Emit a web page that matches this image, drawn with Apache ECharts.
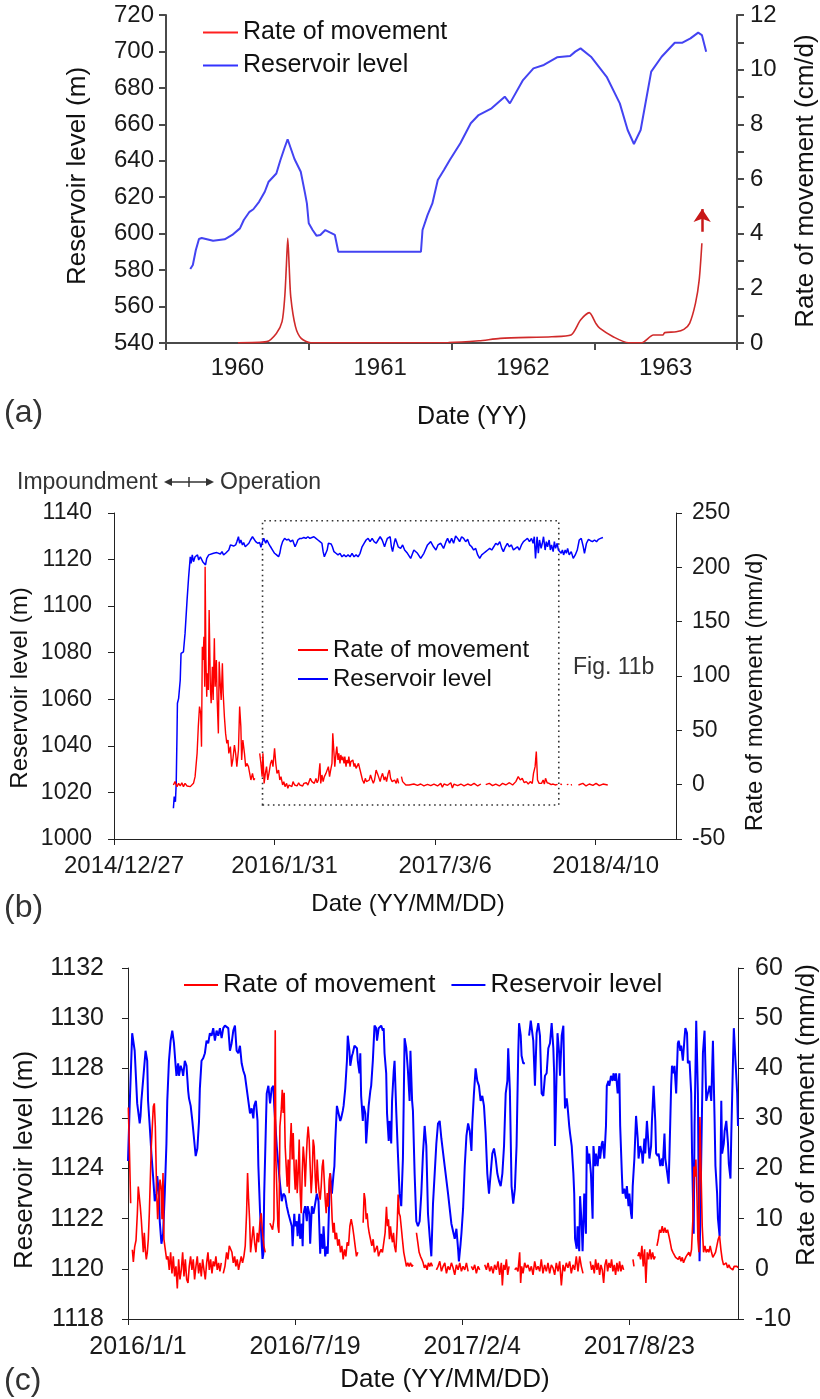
<!DOCTYPE html>
<html>
<head>
<meta charset="utf-8">
<script src="https://cdn.jsdelivr.net/npm/echarts@6/dist/echarts.min.js"></script>
<style>
html,body{margin:0;padding:0;background:#fff;}
#chart{width:820px;height:1399px;}
</style>
</head>
<body>
<div id="chart"></div>
<script>
// ---------- Panel (a): Vajont 1960-1963 (x = decimal year) ----------
const aYearLabels = ['1960', '1961', '1962', '1963'];
const aLevel = [
  [1960.170,580.6],[1960.188,582.8],[1960.209,591.0],[1960.231,597.1],[1960.250,597.6],[1960.330,596.1],
  [1960.411,596.9],[1960.464,599.3],[1960.518,602.9],[1960.545,607.5],[1960.585,612.0],[1960.612,613.4],
  [1960.652,617.5],[1960.692,623.0],[1960.719,628.5],[1960.773,633.0],[1960.800,640.0],[1960.830,647.0],
  [1960.852,651.8],[1960.900,641.0],[1960.944,634.0],[1960.974,622.1],[1960.987,616.6],[1961.000,605.7],
  [1961.027,602.0],[1961.054,598.9],[1961.081,599.3],[1961.116,602.0],[1961.148,600.7],[1961.183,599.3],
  [1961.207,590.1],[1961.786,590.1],[1961.797,602.0],[1961.832,610.2],[1961.845,610.2],[1961.866,616.6],
  [1961.904,629.4],[1961.947,634.9],[1961.988,640.4],[1962.062,649.6],[1962.135,660.6],[1962.190,665.1],
  [1962.281,668.8],[1962.373,675.2],[1962.409,671.5],[1962.501,684.3],[1962.574,690.7],[1962.647,692.6],
  [1962.739,696.8],[1962.831,697.5],[1962.867,699.9],[1962.904,701.7],[1962.977,697.1],[1963.087,686.1],
  [1963.179,671.5],[1963.234,656.9],[1963.278,649.2],[1963.325,656.9],[1963.399,688.9],[1963.472,697.1],
  [1963.564,704.8],[1963.618,704.8],[1963.674,707.2],[1963.728,710.3],[1963.754,709.0],[1963.784,699.9]
];
const aRate = [
  [1960.504,0.01],[1960.705,0.05],[1960.773,0.35],[1960.813,0.78],[1960.832,1.69],[1960.843,2.8],
  [1960.853,3.83],[1960.863,2.8],[1960.874,1.69],[1960.907,0.6],[1960.947,0.17],[1961.014,0.01],
  [1961.979,0.02],[1962.193,0.08],[1962.341,0.17],[1962.703,0.23],[1962.837,0.29],[1962.904,0.84],
  [1962.965,1.11],[1963.011,0.72],[1963.038,0.54],[1963.132,0.23],[1963.239,0.01],[1963.333,0.01],
  [1963.414,0.29],[1963.480,0.29],[1963.494,0.38],[1963.574,0.41],[1963.628,0.5],[1963.668,0.72],
  [1963.709,1.45],[1963.735,2.3],[1963.754,3.65]
];
const aArrow = [[1963.756, 4.07], [1963.756, 4.9]];

// ---------- Panel (b): x = days since 2014/12/27 ----------
const bTickLabels = ['2014/12/27', '2016/1/31', '2017/3/6', '2018/4/10'];
const bBox = [[370, 1014.6], [1108, 1136.7]];
const bLevel = [
  [148,1013.2],[150,1018.2],[153,1016.0],[155,1023.9],[157,1045.4],[158,1058.3],[161,1060.4],[165,1068.3],
  [167,1079.7],[173,1080.4],[177,1088.3],[182,1102.6],[186,1112.7],[190,1121.2],[192,1118.4],[195,1122.0],
  [198,1119.1],[202,1121.2],[205,1120.5],[208,1122.0],[211,1119.8],[215,1121.2],[218,1120.5],[221,1119.1],
  [225,1119.8],[228,1117.7],[231,1120.5],[236,1122.0],[240,1122.7],[248,1122.7],[256,1123.0],[265,1122.4],
  [269,1123.4],[273,1122.0],[278,1122.7],[281,1123.0],[286,1124.1],[290,1126.3],[294,1127.0],[298,1125.8],
  [303,1126.3],[306,1127.7],[310,1129.8],[313,1127.0],[316,1128.4],[320,1126.3],[323,1127.3],[327,1125.5],
  [331,1124.8],[336,1127.0],[340,1128.4],[345,1129.8],[348,1129.1],[353,1127.7],[358,1127.0],[363,1127.3],
  [366,1125.3],[370,1127.7],[373,1129.1],[378,1127.0],[381,1128.4],[385,1127.0],[390,1125.5],[395,1124.1],
  [400,1122.7],[405,1122.0],[410,1121.2],[413,1122.7],[416,1125.5],[420,1127.7],[425,1129.1],[430,1128.4],
  [435,1128.7],[440,1127.7],[445,1128.4],[448,1127.7],[451,1125.5],[455,1127.0],[458,1128.4],[463,1129.1],
  [468,1129.1],[473,1129.5],[478,1129.1],[483,1129.8],[488,1129.1],[493,1129.5],[498,1129.8],[503,1129.1],
  [508,1128.4],[513,1127.7],[518,1127.0],[521,1123.4],[524,1121.2],[528,1120.5],[531,1124.1],[534,1127.0],
  [538,1126.3],[541,1126.7],[544,1125.5],[548,1123.4],[553,1122.7],[558,1122.0],[563,1122.7],[568,1121.2],
  [573,1122.0],[578,1121.2],[583,1122.0],[588,1121.2],[593,1122.7],[598,1121.2],[603,1122.0],[608,1121.2],
  [613,1122.7],[618,1125.5],[623,1127.0],[628,1128.4],[633,1129.1],[638,1127.7],[643,1129.1],[648,1127.7],
  [653,1127.0],[658,1128.4],[663,1129.8],[668,1128.4],[671,1127.0],[674,1125.5],[678,1127.7],[681,1129.1],
  [684,1128.4],[688,1129.8],[691,1125.5],[694,1123.4],[698,1127.0],[701,1129.1],[704,1128.4],[708,1125.5],
  [711,1126.3],[714,1124.8],[719,1126.3],[724,1124.1],[731,1122.7],[739,1120.5],[747,1124.1],[756,1122.7],
  [764,1120.5],[772,1122.7],[781,1126.3],[789,1127.7],[796,1125.5],[802,1124.1],[807,1126.3],[814,1127.0],
  [821,1124.8],[827,1127.7],[831,1129.1],[836,1127.0],[841,1129.1],[846,1127.0],[851,1130.1],[856,1129.1],
  [861,1127.7],[866,1129.8],[871,1129.1],[876,1127.7],[881,1128.7],[886,1126.3],[891,1125.5],[896,1124.1],
  [901,1124.8],[906,1122.0],[911,1120.5],[916,1122.0],[921,1122.7],[926,1123.4],[931,1124.1],[936,1124.8],
  [941,1124.1],[946,1125.5],[951,1127.0],[956,1126.3],[961,1127.7],[966,1124.8],[970,1123.4],[975,1125.5],
  [980,1127.0],[985,1125.5],[990,1126.3],[995,1124.1],[1000,1124.8],[1005,1125.5],[1010,1124.1],[1015,1126.3],
  [1020,1127.7],[1025,1128.4],[1030,1129.1],[1035,1127.7],[1040,1129.1],[1044,1127.0],[1047,1129.8],[1050,1120.5],
  [1054,1129.8],[1057,1122.7],[1060,1128.4],[1064,1124.8],[1067,1127.0],[1070,1129.8],[1074,1124.1],[1077,1127.7],
  [1080,1125.5],[1084,1128.4],[1087,1124.1],[1090,1126.3],[1094,1123.4],[1097,1127.7],[1100,1124.8],[1104,1127.0],
  [1107,1124.1],[1110,1124.8],[1114,1122.7],[1117,1124.1],[1120,1122.0],[1124,1124.1],[1127,1122.7],[1130,1124.8],
  [1134,1122.0],[1139,1123.4],[1144,1120.5],[1149,1122.0],[1154,1124.1],[1159,1128.4],[1164,1129.1],[1169,1125.5],
  [1172,1122.7],[1177,1127.0],[1182,1128.7],[1187,1128.1],[1192,1127.7],[1197,1128.4],[1202,1127.7],[1207,1128.7],
  [1212,1129.1],[1218,1129.5]
];
const bRate = [
  [148,-0.3],[152,2.8],[157,-1.8],[161,1.2],[165,-1.2],[169,1.8],[173,-1.8],[177,1.2],[182,-1.2],[186,0.6],
  [190,-1.8],[194,-0.3],[198,1.2],[202,7.4],[207,28.8],[210,53.4],[213,71.8],[216,65.6],[218,35.0],[220,127.0],
  [222,114.7],[224,136.2],[226,90.2],[227,200.6],[229,114.7],[231,81.0],[232,102.5],[235,87.1],[237,160.7],
  [240,90.2],[242,74.9],[245,108.6],[247,77.9],[250,134.7],[252,90.2],[255,114.7],[257,77.9],[260,47.2],
  [262,113.2],[265,90.2],[267,77.9],[270,111.7],[272,84.0],[275,62.6],[278,47.2],[281,38.0],[284,41.1],
  [286,28.8],[290,35.0],[293,16.6],[296,22.7],[300,36.5],[303,28.8],[306,16.6],[310,31.9],[313,71.8],
  [316,53.4],[318,22.7],[321,41.1],[325,28.8],[328,16.6],[331,19.6],[335,16.6],[338,10.4],[341,4.3],
  [345,10.4],[348,4.3],[351,5.8],[355,null],[363,28.8],[366,19.6],[369,7.4],[371,28.8],[374,1.2],[377,10.4],
  [380,16.6],[383,4.3],[386,10.4],[390,19.6],[393,22.7],[396,16.6],[400,33.4],[403,19.6],[406,10.4],
  [410,13.5],[413,4.3],[416,7.4],[420,-0.3],[423,2.8],[426,-1.8],[430,1.2],[433,-3.4],[436,-0.3],[440,1.2],
  [443,-1.8],[446,2.8],[450,-0.3],[453,1.2],[456,-1.2],[460,1.8],[463,-0.3],[466,1.2],[470,-1.2],[473,1.2],
  [476,-0.3],[479,1.8],[483,-0.3],[486,1.2],[489,5.8],[493,2.8],[496,4.3],[499,1.2],[503,5.8],[506,1.8],
  [509,4.3],[513,19.6],[515,1.2],[518,8.9],[521,2.8],[524,7.4],[528,10.4],[531,8.9],[534,16.6],[537,7.4],
  [539,12.0],[543,19.6],[545,47.2],[548,28.8],[550,16.6],[553,28.8],[555,35.0],[558,22.7],[560,28.8],
  [563,19.6],[565,27.3],[568,22.7],[570,25.8],[573,19.6],[575,25.8],[578,16.6],[580,22.7],[583,19.6],
  [585,25.8],[588,16.6],[590,21.2],[593,19.6],[595,22.7],[598,16.6],[600,19.6],[603,15.0],[606,16.6],
  [609,19.6],[613,13.5],[616,8.9],[619,4.3],[623,1.2],[626,5.8],[629,2.8],[633,1.2],[636,4.3],[639,8.9],
  [643,4.3],[646,1.2],[649,4.3],[653,13.5],[656,10.4],[659,7.4],[663,2.8],[666,7.4],[669,10.4],[673,4.3],
  [676,7.4],[679,2.8],[683,10.4],[686,13.5],[689,5.8],[693,2.8],[696,1.2],[699,4.3],[703,1.2],[706,5.8],
  [709,1.2],[712,null],[716,7.4],[719,2.8],[723,1.2],[727,-0.3],[731,0.6],[735,-0.3],[739,0.3],[747,0.6],
  [756,-0.6],[764,0.6],[772,-1.2],[781,0.3],[789,-0.9],[797,0.6],[806,-1.2],[814,1.2],[818,-2.4],[822,0.6],
  [831,-0.6],[839,1.8],[843,-3.1],[847,0.6],[856,-0.9],[864,0.6],[872,-1.2],[881,0.6],[889,-0.6],[897,1.2],
  [906,-1.2],[914,0.6],[920,null],[926,0.0],[935,1.2],[943,-0.9],[951,0.6],[960,-1.2],[968,1.2],[976,-0.3],
  [985,1.8],[993,-0.3],[1001,2.8],[1007,7.4],[1012,4.3],[1017,5.8],[1022,1.8],[1027,2.8],[1032,0.6],
  [1037,2.8],[1042,1.2],[1045,10.4],[1049,16.6],[1052,30.4],[1055,4.3],[1059,1.2],[1062,2.8],[1065,1.2],
  [1069,4.3],[1072,0.6],[1075,5.8],[1079,1.8],[1084,1.2],[1089,0.0],[1094,0.6],[1099,-0.3],[1105,0.3],
  [1108,null],[1112,0.6],[1116,0.0],[1119,null],[1128,0.0],[1132,0.3],[1135,null],[1138,-0.3],[1141,0.0],
  [1144,null],[1157,-0.3],[1168,1.2],[1176,-1.2],[1184,0.6],[1193,-0.6],[1201,1.2],[1209,-0.9],[1218,0.6],
  [1230,-0.3]
];

// ---------- Panel (c): x = days since 2016/1/1 ----------
const cTickLabels = ['2016/1/1', '2016/7/19', '2017/2/4', '2017/8/23'];
const cLevel = [
  [0,1124.3],[2,1126.5],[5,1129.4],[8,1128.7],[11,1126.6],[14,1125.8],[15,1126.1],[16,1126.7],[18,1127.5],
  [21,1128.7],[23,1128.3],[24,1126.7],[26,1125.7],[28,1124.6],[30,1123.7],[32,1122.7],[34,1123.0],[35,1123.7],
  [37,1123.0],[38,1121.9],[40,1121.0],[42,1121.4],[44,1123.0],[46,1125.0],[47,1126.7],[49,1128.3],[51,1129.1],
  [53,1129.5],[55,1129.0],[57,1128.1],[58,1127.7],[60,1128.2],[61,1127.7],[63,1128.1],[65,1127.9],[66,1127.7],
  [68,1128.3],[70,1128.1],[72,1127.1],[73,1126.8],[75,1126.5],[77,1125.9],[79,1125.2],[81,1124.5],[83,1124.8],
  [85,1125.9],[86,1127.2],[88,1128.3],[90,1128.4],[92,1128.6],[94,1129.1],[96,1129.0],[98,1129.4],[100,1129.3],
  [102,1129.6],[104,1129.1],[106,1129.5],[108,1129.3],[110,1129.6],[112,1129.2],[114,1129.6],[116,1129.7],
  [118,1129.7],[120,1129.6],[122,1128.7],[124,1129.0],[126,1129.5],[128,1129.7],[130,1128.7],[132,1128.6],
  [134,1128.9],[136,1128.2],[138,1127.9],[140,1127.7],[142,1127.2],[144,1126.7],[146,1126.2],[148,1126.4],
  [150,1126.0],[151,1126.5],[153,1126.7],[155,1125.9],[156,1124.1],[158,1122.3],[160,1121.0],[161,1120.4],
  [162,1120.6],[163,1123.0],[165,1125.7],[166,1127.0],[168,1127.3],[170,1126.6],[172,1127.2],[174,1127.3],
  [175,1126.5],[178,1124.9],[181,1123.7],[184,1122.7],[186,1123.0],[188,1122.9],[190,1122.5],[192,1122.2],
  [194,1122.2],[196,1121.7],[197,1120.9],[199,1122.2],[200,1121.7],[202,1121.9],[203,1121.3],[205,1122.2],
  [206,1121.2],[208,1121.8],[209,1120.9],[210,1122.2],[212,1122.5],[214,1121.9],[215,1122.5],[217,1122.2],
  [218,1121.0],[220,1122.5],[222,1122.2],[224,1122.6],[226,1123.0],[228,1122.7],[230,1120.6],[231,1121.4],
  [233,1120.8],[234,1121.7],[236,1120.5],[238,1120.9],[239,1120.6],[241,1123.0],[242,1123.8],[244,1123.0],
  [246,1123.8],[247,1124.1],[248,1125.1],[250,1126.5],[252,1126.2],[254,1125.9],[255,1126.0],[257,1126.3],
  [258,1126.5],[260,1127.2],[262,1128.3],[263,1129.3],[265,1128.7],[266,1128.1],[268,1128.5],[269,1128.6],
  [271,1128.9],[273,1128.9],[274,1128.8],[275,1128.3],[277,1127.8],[278,1128.6],[279,1126.9],[281,1125.9],
  [282,1126.5],[284,1126.2],[285,1125.0],[287,1126.0],[288,1126.5],[290,1127.1],[291,1127.3],[293,1128.3],
  [295,1129.7],[297,1129.6],[298,1129.1],[300,1129.6],[301,1129.6],[303,1129.7],[305,1129.5],[306,1129.6],
  [307,1128.6],[309,1127.8],[310,1126.2],[312,1125.1],[313,1125.9],[315,1125.0],[316,1126.7],[318,1127.9],
  [319,1128.3],[321,1126.3],[323,1124.6],[325,1123.0],[327,1122.5],[329,1124.4],[331,1129.2],[333,1128.8],
  [335,1127.9],[337,1126.7],[338,1128.7],[340,1126.7],[341,1126.3],[343,1123.8],[345,1121.9],[347,1121.7],
  [349,1121.9],[351,1123.0],[353,1124.6],[355,1125.7],[357,1124.9],[359,1122.2],[361,1121.3],[363,1120.5],
  [365,1122.6],[367,1123.8],[369,1125.0],[371,1125.8],[373,1125.9],[375,1125.2],[379,1124.1],[383,1123.0],
  [387,1121.8],[391,1121.2],[393,1121.6],[395,1120.8],[396,1120.3],[398,1121.0],[399,1121.4],[401,1122.4],
  [403,1124.1],[405,1125.3],[407,1125.8],[409,1125.5],[411,1124.7],[412,1125.8],[414,1127.0],[416,1128.0],
  [418,1127.5],[420,1127.3],[422,1126.7],[424,1126.9],[426,1126.5],[428,1125.4],[430,1123.8],[432,1123.0],
  [434,1123.0],[436,1124.6],[438,1124.8],[440,1124.4],[442,1123.8],[444,1123.5],[446,1123.3],[448,1123.8],
  [450,1124.9],[452,1127.0],[454,1127.5],[455,1128.8],[457,1127.1],[459,1123.3],[461,1122.6],[463,1123.2],
  [465,1124.9],[467,1128.6],[468,1129.8],[470,1129.3],[471,1128.5],[473,1128.2],[475,1128.2],[477,null],
  [480,1129.3],[482,1129.9],[485,1129.1],[487,1127.3],[489,1129.4],[491,1129.8],[493,1129.3],[495,1127.0],
  [497,1126.9],[499,1127.7],[501,1127.8],[503,1128.8],[505,1129.0],[507,1129.8],[509,1128.8],[510,1127.8],
  [511,1124.9],[513,1127.9],[514,1129.4],[516,1128.6],[517,1127.7],[519,1129.3],[521,1129.7],[522,1127.7],
  [523,1126.4],[525,1126.8],[526,1126.5],[528,1125.7],[529,1125.4],[531,1124.9],[533,1123.8],[534,1123.0],
  [535,1121.2],[537,1120.8],[538,1121.7],[540,1120.7],[541,1122.9],[543,1121.7],[544,1120.7],[546,1123.0],
  [548,1121.4],[549,1124.9],[551,1124.2],[552,1124.6],[554,1123.8],[556,1122.0],[557,1124.9],[559,1124.1],
  [560,1124.6],[562,1124.1],[564,1124.9],[565,1124.4],[567,1125.0],[568,1125.1],[570,1124.4],[572,1125.7],
  [573,1127.3],[575,1127.5],[576,1127.3],[578,1127.7],[580,1127.5],[581,1127.8],[583,1127.5],[584,1127.8],
  [586,1127.0],[588,1127.8],[589,1125.7],[591,1123.8],[592,1123.0],[594,1123.2],[596,1122.8],[597,1123.3],
  [599,1122.5],[600,1123.0],[602,1122.2],[603,1122.0],[604,1123.3],[606,1124.4],[608,1126.1],[610,1125.2],
  [611,1124.4],[613,1124.9],[615,1124.6],[616,1124.2],[618,1125.2],[619,1124.6],[621,1125.9],[623,1124.9],
  [624,1124.4],[626,1124.9],[627,1125.9],[629,1127.3],[631,1125.9],[632,1124.6],[634,1124.5],[635,1124.6],
  [637,1124.1],[639,1124.4],[640,1124.1],[642,1125.4],[643,1124.4],[645,1124.4],[647,1123.4],[648,1124.6],
  [650,1127.3],[651,1128.1],[653,1127.8],[654,1128.1],[656,1127.0],[658,1129.0],[659,1129.1],[661,1128.7],
  [662,1128.9],[664,1128.3],[666,1129.2],[667,1129.6],[669,1129.4],[670,1128.2],[672,1128.3],[674,1127.0],
  [675,1124.6],[677,1121.4],[678,1125.7],[680,1129.9],[682,1127.0],[683,1123.0],[684,1120.3],[686,1124.4],
  [688,1128.6],[690,1129.5],[692,1126.7],[694,1127.0],[696,1127.3],[698,1126.7],[700,1129.1],[702,1125.9],
  [703,1124.1],[705,1123.0],[706,1122.0],[708,1121.3],[710,1126.7],[711,1124.6],[713,1125.0],[714,1125.5],
  [716,1125.9],[718,1125.0],[719,1124.2],[721,1123.6],[722,1125.4],[724,1128.3],[725,1129.6],[727,1128.3],
  [729,1127.0],[730,1125.7]
];
const cRate = [
  [0.4,32.2],[1.6,24.4],[3.2,13.1],[3.8,null],[5.2,3.8],[6.4,1.4],[8.0,4.4],[9.6,5.7],[11.2,11.1],[12.3,16.4],
  [13.6,16.4],[14.7,12.4],[15.9,9.9],[17.1,6.6],[18.3,3.3],[19.5,7.2],[20.7,3.9],[21.9,1.9],[23.1,3.3],
  [24.3,5.9],[25.5,11.1],[26.7,17.8],[27.9,24.4],[29.1,28.4],[30.3,32.4],[31.5,33.0],[32.7,28.4],[33.5,21.8],
  [34.3,15.1],[35.5,9.9],[36.7,13.8],[38.3,17.8],[39.5,16.4],[40.7,9.9],[41.9,19.1],[43.0,5.9],[44.6,3.9],
  [46.2,1.9],[47.8,2.5],[49.4,-0.2],[51.0,3.3],[52.6,-0.9],[54.2,2.5],[55.8,-1.5],[57.4,0.5],[59.0,-3.9],
  [60.6,1.9],[62.2,-2.1],[63.8,-0.2],[65.4,3.3],[67.0,-1.5],[68.6,1.9],[70.2,-2.1],[71.8,-2.8],[73.3,0.5],
  [74.9,2.5],[76.5,-0.2],[78.1,1.9],[79.7,-2.1],[81.3,0.5],[82.9,2.5],[84.5,-0.9],[86.1,1.2],[87.7,-1.5],
  [89.3,1.9],[90.9,-0.2],[92.5,-2.1],[94.1,1.2],[95.7,3.3],[97.3,-0.2],[98.9,1.9],[100.5,-0.9],[102.0,1.5],
  [103.6,0.5],[105.2,2.5],[106.8,-0.2],[108.4,1.2],[110.0,-0.5],[111.6,1.2],[112.8,null],[114.0,-0.9],
  [116.0,0.5],[118.0,3.3],[119.6,1.9],[121.2,4.6],[122.8,4.6],[124.4,3.3],[126.0,1.2],[127.6,2.5],[129.1,0.5],
  [130.7,1.9],[132.3,-0.2],[133.9,1.2],[135.5,2.5],[137.1,1.2],[138.7,2.5],[140.3,4.6],[141.9,11.1],
  [143.1,19.1],[144.3,13.8],[145.5,9.9],[146.7,3.3],[148.3,5.9],[149.9,8.5],[151.5,5.3],[153.1,3.3],
  [154.7,7.2],[156.3,5.3],[157.8,9.2],[159.4,11.1],[161.0,7.2],[162.6,4.6],[164.2,3.3],[167.0,null],
  [169.8,9.1],[171.4,8.5],[173.0,7.8],[174.6,9.9],[176.2,47.6],[177.0,21.8],[178.2,15.1],[179.4,8.5],
  [180.6,7.2],[181.8,28.4],[183.4,31.7],[184.6,35.7],[185.7,31.1],[186.9,35.1],[188.1,24.4],[189.3,20.4],
  [190.5,16.4],[191.7,21.8],[192.9,15.1],[194.1,24.4],[195.3,29.1],[196.5,21.8],[197.7,27.1],[198.9,19.8],
  [200.1,15.8],[201.3,21.8],[202.5,15.1],[203.7,19.1],[204.9,25.8],[206.1,15.1],[207.3,11.1],[208.5,19.1],
  [209.7,24.4],[210.9,21.8],[212.1,16.4],[213.3,21.8],[214.4,25.8],[215.6,28.4],[216.8,25.8],[218.0,20.4],
  [219.2,15.1],[220.4,18.4],[221.6,25.8],[222.8,24.4],[224.0,18.4],[225.2,15.1],[226.4,21.8],[227.6,17.8],
  [228.8,15.1],[230.0,13.8],[231.2,16.4],[232.4,20.4],[233.6,21.8],[234.8,17.8],[236.0,13.8],[237.2,11.1],
  [238.4,15.1],[239.6,12.4],[240.8,17.8],[242.0,19.1],[243.1,15.1],[244.3,9.9],[245.5,7.2],[246.7,9.2],
  [247.9,5.9],[249.5,7.2],[251.1,4.6],[252.7,5.9],[254.3,3.3],[255.9,4.6],[257.5,1.9],[259.1,3.9],
  [260.7,2.5],[262.3,5.3],[263.9,4.6],[265.5,8.5],[267.1,9.9],[268.7,8.5],[270.3,6.6],[271.8,4.6],
  [273.4,2.5],[275.0,3.3],[278.0,null],[281.4,9.2],[282.6,15.1],[283.8,13.8],[285.0,9.9],[286.2,11.1],
  [287.4,8.5],[288.6,7.2],[290.2,5.9],[291.8,4.6],[293.4,5.9],[295.0,3.3],[296.6,3.3],[298.2,4.6],
  [299.8,2.5],[301.3,3.3],[302.9,3.9],[304.5,3.3],[306.1,3.3],[307.7,7.2],[309.3,12.4],[310.5,8.5],
  [311.7,9.9],[312.9,5.9],[314.1,8.5],[315.3,6.6],[316.5,5.3],[317.7,7.2],[318.9,4.6],[320.5,3.3],
  [322.1,8.5],[323.3,14.8],[324.5,11.1],[325.7,10.5],[326.9,8.5],[328.4,5.9],[330.0,3.3],[331.6,1.9],
  [333.2,0.5],[334.8,1.2],[336.4,0.5],[338.0,1.2],[339.6,0.5],[341.2,0.8],[343.0,null],[345.2,7.2],
  [346.8,5.3],[348.4,3.3],[350.0,2.5],[351.6,1.9],[353.2,1.2],[354.7,0.2],[356.3,0.8],[357.9,-0.2],
  [359.5,1.2],[361.1,0.5],[362.7,1.2],[364.3,0.5],[366.0,null],[369.1,-0.2],[371.1,0.5],[373.1,1.5],
  [375.1,-0.5],[377.1,0.5],[379.1,1.2],[381.1,-0.9],[383.0,0.5],[385.0,-0.2],[387.0,1.2],[389.0,0.2],
  [391.0,-1.2],[393.0,0.8],[395.0,-0.2],[397.0,1.2],[399.0,-0.5],[401.0,0.5],[403.0,-0.2],[405.0,1.2],
  [407.0,-0.5],[409.0,null],[410.9,0.5],[412.9,-0.2],[414.9,0.8],[416.9,-0.9],[418.9,0.5],[420.9,-0.2],
  [423.0,null],[426.9,0.8],[428.9,-0.2],[430.9,1.2],[432.9,-0.5],[434.9,0.5],[436.9,-0.9],[438.8,0.8],
  [440.8,-0.2],[442.8,1.5],[444.8,-1.2],[446.8,1.2],[448.0,-3.3],[449.6,0.8],[451.2,-0.2],[452.8,1.9],
  [454.4,-1.2],[456.0,0.5],[459.0,null],[462.8,-0.2],[464.8,0.2],[466.7,-0.5],[468.7,3.3],[469.9,-2.8],
  [471.1,0.5],[472.7,-0.9],[474.7,1.2],[476.7,0.2],[478.7,0.8],[480.7,-0.5],[482.7,0.5],[484.7,-1.2],
  [486.7,1.5],[488.7,-0.2],[490.7,0.5],[492.7,-0.5],[494.6,1.9],[496.6,-0.9],[498.6,0.8],[500.6,-0.5],
  [502.6,1.2],[504.6,-0.9],[506.6,0.8],[508.6,0.2],[510.6,-1.2],[512.6,1.2],[514.6,-0.5],[516.6,1.5],
  [518.6,-3.3],[520.6,0.8],[522.5,-0.5],[524.5,1.2],[526.5,0.2],[528.5,1.5],[530.5,-0.9],[532.5,0.8],
  [534.5,-0.2],[536.5,2.5],[538.5,-0.5],[540.5,2.5],[542.5,0.5],[544.5,-0.9],[548.0,null],[553.2,1.5],
  [554.8,-0.2],[556.4,0.8],[558.0,-0.9],[559.6,1.9],[561.2,-0.2],[562.8,1.2],[564.4,-1.2],[566.0,0.8],
  [567.6,-0.2],[569.2,-2.8],[570.8,0.8],[572.4,1.9],[574.0,-0.5],[575.6,1.2],[577.2,0.2],[578.7,1.9],
  [580.3,-0.5],[581.9,0.8],[583.5,-1.2],[585.1,1.2],[586.7,-0.5],[588.3,1.5],[589.9,-0.5],[591.5,0.8],
  [593.1,-0.2],[600.0,null],[604.3,1.9],[605.5,0.5],[607.0,null],[610.2,2.5],[611.8,3.3],[613.4,1.9],
  [615.0,4.6],[616.6,0.5],[618.2,3.9],[619.8,-2.8],[621.4,3.3],[623.0,1.9],[624.6,3.9],[626.2,1.9],
  [627.8,3.3],[629.4,1.9],[631.0,2.5],[632.0,null],[633.0,4.6],[634.6,5.9],[636.2,7.8],[637.7,7.2],
  [639.3,8.5],[640.9,7.2],[642.5,8.2],[644.1,7.2],[645.7,7.8],[647.3,6.6],[648.9,5.3],[650.5,3.9],
  [652.1,3.3],[653.7,3.3],[655.3,2.3],[656.9,2.6],[658.5,1.9],[660.1,2.5],[661.7,1.5],[663.3,2.3],
  [664.8,1.2],[666.4,1.9],[668.0,2.5],[669.6,2.3],[671.2,3.3],[672.8,2.5],[674.4,3.9],[676.0,9.9],
  [677.2,20.4],[678.4,18.4],[679.6,21.8],[680.8,15.1],[682.0,5.9],[683.2,3.3],[684.4,30.3],[686.0,30.3],
  [687.2,8.5],[688.8,3.3],[690.4,4.6],[692.0,3.3],[693.6,3.9],[695.1,3.3],[696.7,4.6],[698.3,3.3],
  [699.9,2.3],[701.5,2.5],[703.1,3.3],[704.7,4.6],[706.3,5.9],[707.9,6.6],[709.5,3.9],[711.1,1.9],
  [712.7,0.8],[714.3,0.5],[715.9,1.2],[717.5,0.2],[719.1,0.8],[720.7,0.2],[722.2,0.5],[723.8,-0.2],
  [725.4,0.5],[727.0,0.2],[728.6,0.5],[730.0,0.2]
];

// ---------- build ----------
const FONT = '"Liberation Sans", Arial, Helvetica, sans-serif';
const prep = arr => arr.map(p => [p[0], p[1] === null ? '-' : p[1]]);
const plain = v => String(v);

function axisBase(color, width, tickLen) {
  return {
    axisLine: { show: true, onZero: false, lineStyle: { color: color, width: width } },
    axisTick: { show: true, inside: false, length: tickLen, lineStyle: { color: color, width: width } },
    splitLine: { show: false }
  };
}
function lbl(size, margin, extra) {
  return Object.assign({ color: '#1a1a1a', fontSize: size, fontFamily: FONT, margin: margin, formatter: plain }, extra || {});
}
function txt(text, x, y, size, align, color, rot) {
  return {
    type: 'text', x: x, y: y, rotation: rot || 0, silent: true,
    style: { text: text, x: 0, y: 0, fontSize: size, fontFamily: FONT, fill: color || '#111',
             align: align || 'center', verticalAlign: 'middle' }
  };
}
const ROT = Math.PI / 2;

const chart = echarts.init(document.getElementById('chart'), null, { renderer: 'canvas' });

const option = {
  animation: false,
  backgroundColor: '#ffffff',
  grid: [
    { left: 166, top: 15, width: 571, height: 328 },
    { left: 114, top: 513, width: 562, height: 326 },
    { left: 128, top: 968, width: 610, height: 351 }
  ],
  xAxis: [
    Object.assign({ gridIndex: 0, type: 'value', position: 'bottom', min: 1960, max: 1964, interval: 1,
      axisLabel: { show: false } }, axisBase('#4a4a4a', 2, 7)),
    { gridIndex: 0, type: 'category', position: 'bottom', data: aYearLabels, boundaryGap: true,
      axisLine: { show: false, onZero: false }, axisTick: { show: false }, splitLine: { show: false },
      axisLabel: { color: '#1a1a1a', fontSize: 24, fontFamily: FONT, margin: 13 } },
    Object.assign({ gridIndex: 1, type: 'value', position: 'bottom', min: 0, max: 1400, interval: 400,
      axisLabel: lbl(24, 15, { showMaxLabel: false, padding: [0, 0, 0, 20],
        formatter: v => bTickLabels[Math.round(v / 400)] || '' }) }, axisBase('#222', 1, 6)),
    Object.assign({ gridIndex: 2, type: 'value', position: 'bottom', min: 0, max: 730, interval: 200,
      axisLabel: lbl(25, 16, { showMaxLabel: false, padding: [0, 0, 0, 20],
        formatter: v => cTickLabels[Math.round(v / 200)] || '' }) }, axisBase('#222', 1, 6))
  ],
  yAxis: [
    Object.assign({ gridIndex: 0, type: 'value', position: 'left', min: 540, max: 720, interval: 20,
      axisLabel: lbl(24, 12) }, axisBase('#4a4a4a', 2, 7)),
    Object.assign({ gridIndex: 0, type: 'value', position: 'right', min: 0, max: 12, interval: 2,
      axisLabel: lbl(24, 13),
      minorTick: { show: true, splitNumber: 2, length: 7, lineStyle: { color: '#4a4a4a', width: 2 } } },
      axisBase('#4a4a4a', 2, 7)),
    Object.assign({ gridIndex: 1, type: 'value', position: 'left', min: 1000, max: 1140, interval: 20,
      axisLabel: lbl(23, 22) }, axisBase('#222', 1, 6)),
    Object.assign({ gridIndex: 1, type: 'value', position: 'right', min: -50, max: 250, interval: 50,
      axisLabel: lbl(23, 16) }, axisBase('#222', 1, 6)),
    Object.assign({ gridIndex: 2, type: 'value', position: 'left', min: 1118, max: 1132, interval: 2,
      axisLabel: lbl(25, 24) }, axisBase('#222', 1, 6)),
    Object.assign({ gridIndex: 2, type: 'value', position: 'right', min: -10, max: 60, interval: 10,
      axisLabel: lbl(25, 17) }, axisBase('#222', 1, 6))
  ],
  legend: [
    { left: 198, top: 15, orient: 'vertical', icon: 'rect', itemWidth: 35, itemHeight: 2, itemGap: 8,
      selectedMode: false, textStyle: { fontSize: 25, color: '#111', fontFamily: FONT },
      data: [{ name: 'Rate of movement', itemStyle: { color: '#ff2020' } },
             { name: 'Reservoir level', itemStyle: { color: '#3333ff' } }] },
    { left: 293, top: 633, orient: 'vertical', icon: 'rect', itemWidth: 30, itemHeight: 2, itemGap: 5,
      selectedMode: false, textStyle: { fontSize: 24, color: '#111', fontFamily: FONT },
      data: [{ name: 'Rate of movement', itemStyle: { color: '#ff0000' } },
             { name: 'Reservoir level', itemStyle: { color: '#0000ff' } }] },
    { left: 179, top: 967, orient: 'horizontal', icon: 'rect', itemWidth: 34, itemHeight: 2, itemGap: 16,
      selectedMode: false, textStyle: { fontSize: 26, color: '#111', fontFamily: FONT },
      data: [{ name: 'Rate of movement', itemStyle: { color: '#ff0000' } },
             { name: 'Reservoir level', itemStyle: { color: '#0000ff' } }] }
  ],
  series: [
    { type: 'line', name: 'Reservoir level', xAxisIndex: 0, yAxisIndex: 0, data: prep(aLevel),
      symbol: 'none', lineStyle: { color: '#4343f2', width: 2 }, itemStyle: { color: '#4343f2' } },
    { type: 'line', name: 'Rate of movement', xAxisIndex: 0, yAxisIndex: 1, data: prep(aRate), smooth: 0.25,
      symbol: 'none', lineStyle: { color: '#d02a2a', width: 1.6 }, itemStyle: { color: '#d02a2a' },
      markLine: { silent: true, symbol: ['none', 'arrow'], symbolSize: 13, label: { show: false },
        lineStyle: { color: '#c81818', width: 2.5, type: 'solid' },
        data: [[{ coord: aArrow[0] }, { coord: aArrow[1] }]] } },

    { type: 'line', name: 'Reservoir level', xAxisIndex: 2, yAxisIndex: 2, data: prep(bLevel),
      symbol: 'none', lineStyle: { color: '#0000ff', width: 1.5 }, itemStyle: { color: '#0000ff' },
      markArea: { silent: true,
        itemStyle: { color: 'rgba(0,0,0,0)', borderColor: '#333', borderWidth: 1.6, borderType: [1.6, 3.6] },
        data: [[{ coord: bBox[0] }, { coord: bBox[1] }]] } },
    { type: 'line', name: 'Rate of movement', xAxisIndex: 2, yAxisIndex: 3, data: prep(bRate),
      symbol: 'none', lineStyle: { color: '#ff0000', width: 1.4 }, itemStyle: { color: '#ff0000' } },

    { type: 'line', name: 'Reservoir level', xAxisIndex: 3, yAxisIndex: 4, data: prep(cLevel),
      symbol: 'none', lineStyle: { color: '#0000ff', width: 2 }, itemStyle: { color: '#0000ff' } },
    { type: 'line', name: 'Rate of movement', xAxisIndex: 3, yAxisIndex: 5, data: prep(cRate),
      symbol: 'none', lineStyle: { color: '#ff0000', width: 1.6 }, itemStyle: { color: '#ff0000' } }
  ],
  graphic: [
    // panel (a)
    txt('(a)', 4, 413, 32, 'left', '#333'),
    txt('Date (YY)', 472, 417, 25, 'center', '#111'),
    txt('Reservoir level (m)', 78, 176, 26, 'center', '#111', ROT),
    txt('Rate of movement (cm/d)', 806, 181, 26, 'center', '#111', ROT),
    // panel (b)
    txt('Impoundment', 17, 483, 23, 'left', '#333'),
    txt('Operation', 220, 483, 23, 'left', '#333'),
    { type: 'line', silent: true, shape: { x1: 167, y1: 482, x2: 211, y2: 482 }, style: { stroke: '#333', lineWidth: 1.5 } },
    { type: 'line', silent: true, shape: { x1: 189, y1: 477, x2: 189, y2: 487 }, style: { stroke: '#333', lineWidth: 1.5 } },
    { type: 'polygon', silent: true, shape: { points: [[164, 482], [172, 478], [172, 486]] }, style: { fill: '#333' } },
    { type: 'polygon', silent: true, shape: { points: [[214, 482], [206, 478], [206, 486]] }, style: { fill: '#333' } },
    txt('Fig. 11b', 573, 668, 23, 'left', '#333'),
    txt('(b)', 4, 908, 32, 'left', '#333'),
    txt('Date (YY/MM/DD)', 408, 904, 24, 'center', '#111'),
    txt('Reservoir level (m)', 20, 688, 24, 'center', '#111', ROT),
    txt('Rate of movement (mm/d)', 755, 692, 24, 'center', '#111', ROT),
    // panel (c)
    txt('(c)', 4, 1381, 32, 'left', '#333'),
    txt('Date (YY/MM/DD)', 445, 1380, 26, 'center', '#111'),
    txt('Reservoir level (m)', 25, 1160, 26, 'center', '#111', ROT),
    txt('Rate of movement (mm/d)', 807, 1115, 26, 'center', '#111', ROT)
  ]
};
chart.setOption(option);
</script>
</body>
</html>
